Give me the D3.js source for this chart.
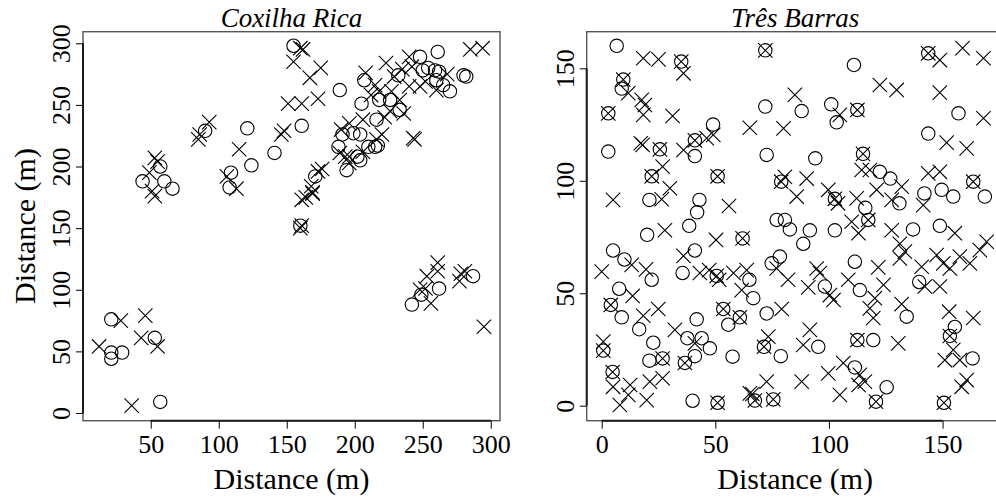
<!DOCTYPE html>
<html>
<head>
<meta charset="utf-8">
<script src="https://cdn.jsdelivr.net/npm/d3@7"></script>
<style>
	body { margin: 0; background: #fff; }
	svg text { font-family: "Liberation Serif", "DejaVu Serif", serif; fill: #000; }
</style>
</head>
<body>
<div id="viz"></div>
<script>
// Coxilha Rica: [x, y] in metres
const coxilhaCircles = [
	[44,188],[57,200],[60,188],[66,182],[90,229],[121,231],[124,201],[109,195],[108,183],[141,211],
	[155,298],[161,233],[171,192],[160,152],
	[21,76],[21,49],[21,44],[29,49],[53,61],[57,9],
	[261,293],[248,289],[280,274],[282,273],[259,278],[207,270],[189,262],[232,274],[205,251],[218,254],
	[226,254],[233,246],[216,238],[199,227],[191,226],[188,216],[204,226],[210,216],[215,216],[217,217],
	[202,208],[204,205],[194,197],[270,261],[265,266],[260,270],[262,277],[250,278],[254,280],
	[242,88],[249,96],[262,101],[287,111]
];
const coxilhaCrosses = [
	[53,207],[55,204],[49,195],[51,180],[53,176],
	[86,226],[85,222],[93,236],[115,214],[106,192],[113,182],[146,226],[148,229],[151,251],[161,251],
	[173,255],[160,296],[162,295],[155,285],[167,272],[175,280],[161,173],[164,175],[169,179],[173,196],
	[176,198],[160,150],[161,152],
	[12,54],[28,75],[46,79],[43,61],[55,54],[36,6],
	[285,295],[294,296],[208,276],[223,284],[240,289],[242,281],[235,279],[229,273],[215,266],[218,261],
	[212,258],[227,261],[240,265],[248,265],[252,269],[260,262],[268,275],[233,254],[226,245],[236,243],
	[222,240],[206,238],[243,223],[244,222],[220,226],[216,222],[196,235],[190,230],[189,211],[193,208],
	[196,208],[206,212],[196,203],[168,184],[169,178],
	[261,122],[261,115],[253,111],[252,101],[248,100],[256,89],[278,113],[277,107],[281,115],[295,70]
];

// Três Barras
const tresCircles = [
	[6.6,160],[8.8,141],[2.9,113],[41,111],[49,125],[21,91.5],[43,91.5],[42,86],[38.5,80],[20,76],
	[5,69],[41,69],
	[111,151.5],[72,133],[88,131],[101,134],[103.4,126],[157,130],[143.7,121],[72.6,111.5],[94,110],
	[122.4,104],[127,101],[116,88],[131,90],[142,94.4],[149.6,96],[154.7,93],[168.6,93],[77,82.6],
	[80.6,82.6],[82.8,78.4],[91.6,78],[102.6,78],[137,78.4],[148.8,80],[88.7,72],
	[10,65],[22,56],[35.6,59],[65,56],[66.7,47.8],[7.7,52],[8.8,39.3],[16.5,34],[22.7,28],[21,20],
	[41.8,38.4],[37.7,30],[44,30],[47.6,25.5],[41,22],[57.6,21.8],[55.7,36],[40,2.2],
	[78.4,66.3],[74.8,63.3],[111.4,64],[98.2,53],[113.6,51.4],[139.7,55],[72.6,41],[134.2,39.6],
	[155.4,35],[95.3,26.2],[119.5,29.2],[78.8,22],[163.2,21],[111.4,17],[125.4,8.2]
];
// circle and cross at the same spot
const tresBoth = [
	[9.5,145],[2.9,130],[35,153],[25.6,114],[41,118],[22,102],[51,102],[62,74.4],[72,158],[112.5,131.5],
	[143.7,156.7],[115,112],[79,99.6],[102.6,92],[117.3,82.6],[163.5,99.6],[50.6,57.7],[4,44.8],[26.8,21],
	[53.5,43],[60.8,39.3],[0.7,24.5],[4.8,15],[36.6,19],[51,1.3],[67.4,2.3],[153.2,31],[71.4,26.2],
	[112.5,29.2],[75.5,2.8],[120.7,1.8],[150.6,1.3]
];
const tresCrosses = [
	[18.3,154.5],[25,154],[36,147.8],[11.7,139],[17.6,136],[19,133.7],[18.3,129.3],[31.2,128.8],[17.2,116.7],
	[18,116],[36,113.7],[46.2,119],[49.1,120.4],[26.8,106.3],[30,96.7],[26.4,91.8],[5,91.5],[56,88.8],
	[27.8,78],[50.3,73.7],[65.2,123.6],
	[148.8,153.7],[158.8,159],[168,154.5],[122.4,142.6],[129.8,140.4],[148.8,139.2],[85,138.2],[104.8,129.3],
	[168,127.8],[80,123.3],[151.8,117],[160.6,114.4],[114.4,104.8],[118,104.8],[143.7,103.3],[148.8,104],
	[80.6,101.8],[90.2,101],[85.8,93],[99.7,96],[104,90],[112.2,92.2],[121,96],[132,97.4],[127.6,91.5],
	[141.5,89.2],[110,81.8],[113,76.7],[127.6,78],[155.4,76.7],[131.2,72],[169.4,72.9],
	[36,66.6],[0,59.6],[13.2,62.6],[19.5,60.6],[43.2,59],[47.3,60.3],[51.7,56],[58,59],[63.8,60.3],
	[61.6,51.4],[13.6,48.8],[24.9,43],[18.3,40],[32.2,33.7],[41,27.7],[0.7,28.5],[26.8,12.2],[21.2,10.7],
	[12.5,9.2],[5,8.4],[8,0.3],[11.7,4.8],[19.8,2.5],[66.3,5.2],
	[133.4,68.5],[131.2,65.5],[147.4,67],[150.3,63.3],[153.2,61],[157.6,66.3],[162,63.3],[166.4,69.2],
	[140.8,61.8],[142.2,53],[148.8,53],[121.7,61.5],[124,53.7],[120.2,47.8],[118,43.3],[119.5,39],
	[108.5,56],[94.6,61],[96,59],[90.9,52.6],[100.4,49.2],[102,47],[82,56],[77,61],[79.2,43],
	[152.9,41.8],[163.5,39],[132,45.2],[130.5,27.7],[91.6,33.7],[88.7,27],[73.3,30.7],[151,20.3],
	[154.7,24.8],[157.6,20.3],[158.4,8.4],[160.6,11.4],[106.3,19],[99.7,14.4],[113.6,13.7],[115.8,10.7],
	[113,9.2],[88,10.7],[72.6,10.7],[65.2,5.5],[104.8,4.8]
];

const coxilhaXTicks = [50, 100, 150, 200, 250, 300];
const coxilhaYTicks = [0, 50, 100, 150, 200, 250, 300];
const tresXTicks = [0, 50, 100, 150];
const tresYTicks = [0, 50, 100, 150];

const width = 996;
const height = 498;
const serif = '"Liberation Serif", "DejaVu Serif", serif';

const svg = d3.select('#viz').append('svg')
	.attr('width', width)
	.attr('height', height);

function drawPanel(opts) {
	const x = d3.scaleLinear().domain(opts.xDomain).range(opts.xRange);
	const y = d3.scaleLinear().domain(opts.yDomain).range([420.7, 31.7]);
	const g = svg.append('g');

	// frame
	g.append('rect')
		.attr('x', opts.xRange[0])
		.attr('y', 31.7)
		.attr('width', opts.xRange[1] - opts.xRange[0])
		.attr('height', 420.7 - 31.7)
		.attr('fill', 'none')
		.attr('stroke', '#555')
		.attr('stroke-width', 1.4);

	const xAxis = g.append('g')
		.attr('transform', 'translate(0,420.7)')
		.call(d3.axisBottom(x).tickValues(opts.xTicks).tickSize(8).tickFormat(d3.format('d')))
		.attr('font-family', serif)
		.attr('font-size', 26);
	xAxis.select('.domain').remove();
	xAxis.selectAll('line').attr('stroke', '#000').attr('stroke-width', 1);
	xAxis.selectAll('text')
		.attr('y', 32)
		.attr('dy', 0)
		.style('font-family', serif)
		.style('font-size', '26px');
	xAxis.append('line')
		.attr('x1', x(opts.xTicks[0]))
		.attr('x2', x(opts.xTicks[opts.xTicks.length - 1]))
		.attr('stroke', '#1a1a1a')
		.attr('stroke-width', 2);

	const yAxis = g.append('g')
		.attr('transform', 'translate(' + opts.xRange[0] + ',0)')
		.call(d3.axisLeft(y).tickValues(opts.yTicks).tickSize(7).tickFormat(d3.format('d')))
		.attr('font-family', serif)
		.attr('font-size', 26);
	yAxis.select('.domain').remove();
	yAxis.selectAll('line').attr('stroke', '#000').attr('stroke-width', 1);
	yAxis.selectAll('text')
		.attr('transform', 'rotate(-90)')
		.attr('x', 0)
		.attr('y', -13)
		.attr('dy', 0)
		.attr('text-anchor', 'middle')
		.style('font-family', serif)
		.style('font-size', '26px');
	yAxis.append('line')
		.attr('y1', y(opts.yTicks[0]))
		.attr('y2', y(opts.yTicks[opts.yTicks.length - 1]))
		.attr('stroke', '#1a1a1a')
		.attr('stroke-width', 2);

	const cx = (opts.xRange[0] + Math.min(opts.xRange[1], opts.xRange[0] + 417)) / 2;

	g.append('text')
		.attr('x', cx)
		.attr('y', 27)
		.attr('text-anchor', 'middle')
		.style('font-size', '27px')
		.style('font-style', 'italic')
		.text(opts.title);

	g.append('text')
		.attr('x', cx)
		.attr('y', 489)
		.attr('text-anchor', 'middle')
		.style('font-size', '30px')
		.text('Distance (m)');

	if (opts.yTitle) {
		g.append('text')
			.attr('transform', 'translate(35,226) rotate(-90)')
			.attr('text-anchor', 'middle')
			.style('font-size', '30px')
			.text(opts.yTitle);
	}

	const r = 6.7;
	const s = 7.2;

	g.append('g').selectAll('circle')
		.data(opts.circles)
		.enter()
		.append('circle')
		.attr('cx', (d) => { return x(d[0]); })
		.attr('cy', (d) => { return y(d[1]); })
		.attr('r', r)
		.attr('fill', 'none')
		.attr('stroke', '#000')
		.attr('stroke-width', 1.1);

	g.append('g').selectAll('path')
		.data(opts.crosses)
		.enter()
		.append('path')
		.attr('d', (d) => {
			const px = x(d[0]), py = y(d[1]);
			return 'M' + (px - s) + ',' + (py - s) + 'L' + (px + s) + ',' + (py + s) +
				'M' + (px - s) + ',' + (py + s) + 'L' + (px + s) + ',' + (py - s);
		})
		.attr('fill', 'none')
		.attr('stroke', '#000')
		.attr('stroke-width', 1.1);
}

drawPanel({
	title: 'Coxilha Rica',
	yTitle: 'Distance (m)',
	xDomain: [0.2, 306.8],
	xRange: [83, 500],
	yDomain: [-6.25, 309.4],
	xTicks: coxilhaXTicks,
	yTicks: coxilhaYTicks,
	circles: coxilhaCircles,
	crosses: coxilhaCrosses
});

drawPanel({
	title: 'Três Barras',
	xDomain: [-6.6, 176.9],
	xRange: [586.7, 1003.7],
	yDomain: [-6.67, 166.3],
	xTicks: tresXTicks,
	yTicks: tresYTicks,
	circles: tresCircles.concat(tresBoth),
	crosses: tresCrosses.concat(tresBoth)
});
</script>
</body>
</html>
